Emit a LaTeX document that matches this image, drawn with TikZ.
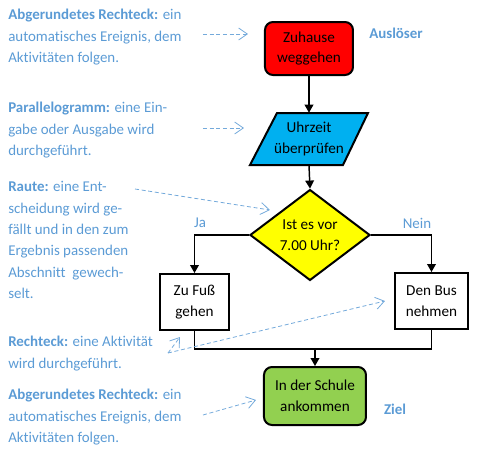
\documentclass[tikz,border=0pt]{standalone}
\usepackage{fontspec}
\setmainfont{Carlito}[Ligatures=NoCommon]
\usetikzlibrary{shapes.geometric,arrows.meta}
\definecolor{annblue}{HTML}{5B9BD5}
\definecolor{boxred}{HTML}{FF0000}
\definecolor{boxcyan}{HTML}{00B0F0}
\definecolor{boxyellow}{HTML}{FFFF00}
\definecolor{boxgreen}{HTML}{92D050}
\begin{document}
\begin{tikzpicture}[x=0.75pt,y=-0.75pt,
  anntext/.style={anchor=north west,inner sep=0pt,align=left,text=annblue,
    font=\fontsize{11.2}{16.1}\selectfont},
  tag/.style={inner sep=0pt,text=annblue,font=\fontsize{11.2}{14}\selectfont\bfseries},
  plaintag/.style={inner sep=0pt,text=annblue,font=\fontsize{11.2}{14}\selectfont},
  boxtext/.style={align=center,font=\fontsize{11.4}{15.4}\selectfont,inner sep=1pt},
  roundbox/.style={boxtext,draw=black,line width=1.5pt,rounded corners=6pt},
  actbox/.style={boxtext,draw=black,line width=1.5pt},
  decision/.style={boxtext,diamond,draw=black,line width=1.5pt,fill=boxyellow,
    minimum width=90pt,minimum height=63.75pt,inner sep=0pt},
  flow/.style={line width=1.1pt,draw=black},
  flowarr/.style={flow,-{Triangle[length=6pt,width=6.5pt]}},
  annarr/.style={draw=annblue!85,line width=0.6pt,densely dashed,
    -{Straight Barb[length=6.5pt,width=9pt]}}
]
\useasboundingbox (0,0) rectangle (480,450);

% annotations
\node[anntext] (ann1) at (8,9) {\textbf{Abgerundetes Rechteck:} ein\\automatisches Ereignis, dem\\Aktivitäten folgen.};
\node[anntext] (ann2) at (8,102) {\textbf{Parallelogramm:} eine Ein-\\gabe oder Ausgabe wird\\durchgeführt.};
\node[anntext] (ann3) at (8,181) {\textbf{Raute:} eine Ent-\\scheidung wird ge-\\fällt und in den zum\\Ergebnis passenden\\Abschnitt\ \ gewech-\\selt.};
\node[anntext] (ann4) at (8,336) {\textbf{Rechteck:} eine Aktivität\\wird durchgeführt.};
\node[anntext] (ann5) at (8,389) {\textbf{Abgerundetes Rechteck:} ein\\automatisches Ereignis, dem\\Aktivitäten folgen.};

% flow nodes
\node[roundbox,fill=boxred,minimum width=66pt,minimum height=39.75pt] (start) at (309,48.5) {Zuhause\\weggehen};
\fill[boxcyan] (277,113) -- (368,113) -- (343,165) -- (250,165) -- cycle;
\draw[line width=1.5pt,line join=miter] (277,113) -- (368,113) -- (343,165) -- (250,165) -- cycle;
\node[boxtext,minimum width=50pt,minimum height=39pt] (par) at (309,139) {Uhrzeit\\überprüfen};
\node[decision] (dia) at (310,235) {Ist es vor\\7.00 Uhr?};
\node[actbox,minimum width=51.75pt,minimum height=42pt] (walk) at (194.5,302) {Zu Fuß\\gehen};
\node[actbox,minimum width=54.75pt,minimum height=42pt] (bus) at (431.5,301) {Den Bus\\nehmen};
\node[roundbox,fill=boxgreen,minimum width=76.5pt,minimum height=43.5pt] (goal) at (315,396) {In der Schule\\ankommen};

% tags
\node[tag] (ausl) at (396,33) {Auslöser};
\node[tag] (ziel) at (395,409) {Ziel};
\node[plaintag] (ja) at (200,223) {Ja};
\node[plaintag] (nein) at (417,223) {Nein};

% flow connectors
\draw[flowarr] (start.south) -- (par.north);
\draw[flowarr] (par.south) -- (dia.north);
\draw[flowarr] (dia.west) -| (walk.north);
\draw[flowarr] (dia.east) -| (bus.north);
\coordinate (join) at (315,349);
\draw[flow] (walk.south) |- (join);
\draw[flow] (bus.south) |- (join);
\draw[flowarr] (join) -- (goal.north);

% annotation arrows
\coordinate (a1s) at (203,34);  \coordinate (a1e) at (248,34);
\coordinate (a2s) at (203,128); \coordinate (a2e) at (244,128);
\coordinate (a3s) at (135,189); \coordinate (a3e) at (270,210);
\coordinate (a4s) at (168,353); \coordinate (a4e) at (180,337); \coordinate (a4f) at (385,301);
\coordinate (a5s) at (203,415); \coordinate (a5e) at (256,400);
\draw[annarr] (a1s) -- (a1e);
\draw[annarr] (a2s) -- (a2e);
\draw[annarr] (a3s) -- (a3e);
\draw[annarr] (a4s) -- (a4e);
\draw[annarr] (a4s) -- (a4f);
\draw[annarr] (a5s) -- (a5e);
\end{tikzpicture}
\end{document}
